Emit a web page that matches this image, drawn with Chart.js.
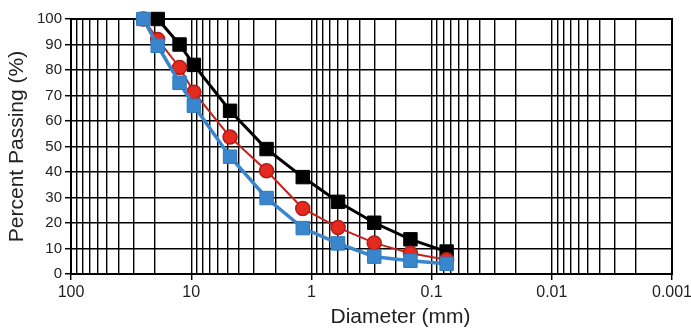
<!DOCTYPE html>
<html>
<head>
<meta charset="utf-8">
<script src="https://cdn.jsdelivr.net/npm/chart.js@4/dist/chart.umd.min.js"></script>
<style>
  html, body { margin: 0; padding: 0; background: #fff; }
  #wrap { width: 691px; height: 329px; }
</style>
</head>
<body>
<div id="wrap"><canvas id="c" width="691" height="329"></canvas></div>
<script>
// Sieve sizes (mm) and percent passing for the three gradations
const sieveSizes = [25, 19, 12.5, 9.5, 4.75, 2.36, 1.18, 0.6, 0.3, 0.15, 0.075];
const gradingBlack = [null, 100, 90, 82, 64, 49, 38, 28.3, 20.1, 13.6, 8.8];
const gradingRed   = [100, 92, 81, 71.3, 53.7, 40.5, 25.7, 18.2, 12.2, 8.1, 5.6];
const gradingBlue  = [100, 89.5, 75, 66, 46, 29.8, 18, 12, 6.8, 5.2, 4];

// Axis ticks
const yTicks = [0, 10, 20, 30, 40, 50, 60, 70, 80, 90, 100];
const xDecades = [100, 10, 1, 0.1, 0.01, 0.001];
const xTickLabels = ['100', '10', '1', '0.1', '0.01', '0.001'];

function toPoints(values) {
  return sieveSizes
    .map((d, i) => ({ x: d, y: values[i] }))
    .filter(p => p.y !== null);
}

// Every 1..9 × 10^k line of the log grid, plus the 100 mm edge
function logGridValues() {
  const vals = [];
  for (let e = -3; e <= 1; e++) {
    for (let m = 1; m <= 9; m++) vals.push(parseFloat((m * Math.pow(10, e)).toPrecision(6)));
  }
  vals.push(100);
  return vals;
}

function decadeIndex(v) {
  return xDecades.findIndex(d => Math.abs(Math.log10(v) - Math.log10(d)) < 1e-9);
}

const frame = {
  id: 'frame',
  afterDatasetsDraw(chart) {},
  beforeDatasetsDraw(chart) {
    const { ctx, chartArea: a } = chart;
    ctx.save();
    ctx.strokeStyle = '#000';
    ctx.lineWidth = 2;
    ctx.strokeRect(a.left, a.top, a.right - a.left, a.bottom - a.top);
    ctx.restore();
  },
  afterDraw(chart) {
    const { ctx, chartArea: a } = chart;
    ctx.save();
    ctx.font = '21px "Liberation Sans", Arial, sans-serif';
    ctx.fillStyle = '#222';
    ctx.textAlign = 'center';
    ctx.textBaseline = 'middle';
    ctx.fillText('Diameter (mm)', (a.left + a.right) / 2 + 29, 317);
    ctx.restore();
  }
};

const markerCommon = { clip: false, tension: 0 };

new Chart(document.getElementById('c'), {
  type: 'line',
  data: {
    datasets: [
      Object.assign({
        label: 'Blue',
        data: toPoints(gradingBlue),
        borderColor: '#3a86cd',
        backgroundColor: '#3a86cd',
        borderWidth: 3.5,
        pointStyle: 'rect',
        pointRadius: 9.5,
        pointBorderWidth: 1,
        pointBorderColor: '#2f78bd'
      }, markerCommon),
      Object.assign({
        label: 'Red',
        data: toPoints(gradingRed),
        borderColor: '#c4211b',
        backgroundColor: '#e42a1f',
        borderWidth: 2,
        pointStyle: 'circle',
        pointRadius: 7,
        pointBorderWidth: 1.5,
        pointBorderColor: '#b01d18'
      }, markerCommon),
      Object.assign({
        label: 'Black',
        data: toPoints(gradingBlack),
        borderColor: '#000',
        backgroundColor: '#000',
        borderWidth: 3,
        pointStyle: 'rect',
        pointRadius: 9.5,
        pointBorderWidth: 1,
        pointBorderColor: '#000'
      }, markerCommon)
    ]
  },
  options: {
    responsive: false,
    animation: false,
    devicePixelRatio: 1,
    layout: { padding: { left: 0, right: 19, top: 19, bottom: 0 } },
    plugins: { legend: { display: false }, tooltip: { enabled: false } },
    scales: {
      x: {
        type: 'logarithmic',
        reverse: true,
        min: 0.001,
        max: 100,
        afterBuildTicks(scale) {
          scale.ticks = logGridValues().map(v => ({ value: v }));
        },
        afterFit(scale) { scale.height = 55; },
        ticks: {
          autoSkip: false,
          maxRotation: 0,
          padding: 3,
          color: '#222',
          font: { family: '"Liberation Sans", Arial, sans-serif', size: 16 },
          callback(v) {
            const i = decadeIndex(v);
            return i >= 0 ? xTickLabels[i] : '';
          }
        },
        grid: {
          color: '#000',
          lineWidth: 1.4,
          tickLength: 6,
          tickWidth: 1.5,
          tickColor(ctx) {
            return ctx.tick && decadeIndex(ctx.tick.value) >= 0 ? '#000' : 'rgba(0,0,0,0)';
          }
        },
        border: { color: '#000', width: 2 }
      },
      y: {
        min: 0,
        max: 100,
        afterBuildTicks(scale) {
          scale.ticks = yTicks.map(v => ({ value: v }));
        },
        afterFit(scale) { scale.width = 71; },
        ticks: {
          padding: 3,
          color: '#222',
          font: { family: '"Liberation Sans", Arial, sans-serif', size: 15 }
        },
        grid: {
          color: '#000',
          lineWidth: 1.4,
          tickLength: 6,
          tickWidth: 1.5,
          tickColor: '#000'
        },
        border: { color: '#000', width: 2 },
        title: {
          display: true,
          text: 'Percent Passing (%)',
          color: '#222',
          padding: { top: 5, bottom: 0 },
          font: { family: '"Liberation Sans", Arial, sans-serif', size: 21 }
        }
      }
    }
  },
  plugins: [frame]
});
</script>
</body>
</html>
